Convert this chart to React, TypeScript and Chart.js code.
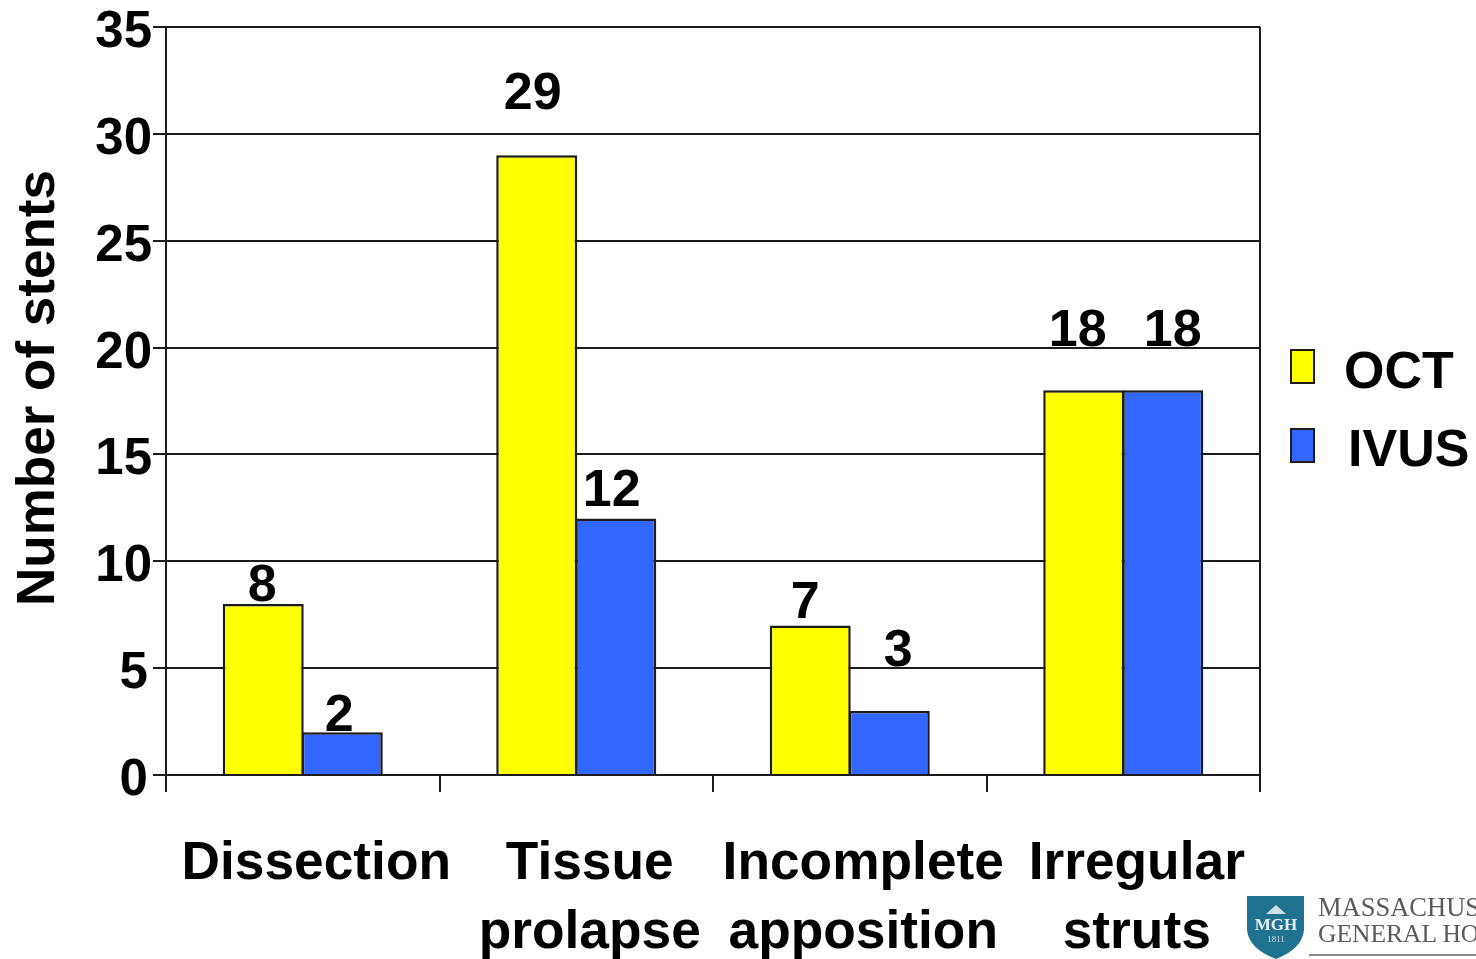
import React, { useEffect, useRef } from "react";
import { Chart, registerables } from "chart.js";

Chart.register(...registerables);

const FONT = '"Liberation Sans", Arial, sans-serif';
const INK = "#1c1c1c";

const categories = [["Dissection"], ["Tissue", "prolapse"], ["Incomplete", "apposition"], ["Irregular", "struts"]];
const octValues = [8, 29, 7, 18];
const ivusValues = [2, 12, 3, 18];
const yTicks = [0, 5, 10, 15, 20, 25, 30, 35];
const yAxisTitle = "Number of stents";

// Hand placement of the value labels relative to the top centre of each bar.
const octLabelShift = [
  { dx: -1, lift: 17 },
  { dx: -4, lift: 61 },
  { dx: -5, lift: 22 },
  { dx: -6, lift: 59 },
];
const ivusLabelShift = [
  { dx: -3, lift: 16 },
  { dx: -4, lift: 27 },
  { dx: 9, lift: 59 },
  { dx: 10, lift: 59 },
];
const labelShifts = [octLabelShift, ivusLabelShift];

const legendRows = [
  { boxTop: 350, textX: 1344, textY: 374 },
  { boxTop: 429, textX: 1348, textY: 452 },
];

const annotations = {
  id: "annotations",
  afterDraw(chart: any) {
    const { ctx } = chart;
    ctx.save();
    ctx.fillStyle = "#000";
    ctx.textBaseline = "middle";

    // value labels above the bars
    ctx.font = `bold 52px ${FONT}`;
    ctx.textAlign = "center";
    chart.data.datasets.forEach((ds: any, d: number) => {
      chart.getDatasetMeta(d).data.forEach((bar: any, i: number) => {
        const s = labelShifts[d][i];
        ctx.fillText(String(ds.data[i]), bar.x + s.dx, bar.y - s.lift);
      });
    });

    // rotated axis title
    ctx.save();
    ctx.translate(39, 388);
    ctx.rotate(-Math.PI / 2);
    ctx.font = `bold 53px ${FONT}`;
    ctx.fillText(yAxisTitle, 0, 0);
    ctx.restore();

    // legend
    ctx.textAlign = "left";
    ctx.font = `bold 52px ${FONT}`;
    chart.data.datasets.forEach((ds: any, d: number) => {
      const row = legendRows[d];
      ctx.fillStyle = ds.backgroundColor;
      ctx.strokeStyle = INK;
      ctx.lineWidth = 2;
      ctx.fillRect(1291, row.boxTop, 23, 33);
      ctx.strokeRect(1291, row.boxTop, 23, 33);
      ctx.fillStyle = "#000";
      ctx.fillText(ds.label, row.textX, row.textY);
    });
    ctx.restore();
  },
};

function HospitalMark() {
  return (
    <svg
      width={240}
      height={70}
      viewBox="1236 889 240 70"
      style={{ position: "absolute", left: 1236, top: 889, filter: "blur(0.6px)" }}
    >
      <path d="M1247 896 H1304 V930 Q1302 949 1276 959 Q1249 949 1247 930 Z" fill="#1f7391" />
      <path d="M1266 914 L1276 905 L1286 914 Z" fill="#cfe0e6" />
      <text x="1276" y="930" textAnchor="middle" fontFamily='"Liberation Serif", serif' fontSize="17" fontWeight="bold" fill="#e8f1f4">
        MGH
      </text>
      <text x="1276" y="942" textAnchor="middle" fontFamily='"Liberation Serif", serif' fontSize="9" fill="#cfe0e6">
        1811
      </text>
      <text x="1318" y="916" fontFamily='"Liberation Serif", serif' fontSize="26.5" fill="#5a5a5a">
        MASSACHUSETTS
      </text>
      <text x="1318" y="942" fontFamily='"Liberation Serif", serif' fontSize="25.5" fill="#5a5a5a">
        GENERAL HOSPITAL
      </text>
      <rect x="1309" y="954" width="167" height="2" fill="#8a8a8a" />
    </svg>
  );
}

export default function App() {
  const ref = useRef<HTMLCanvasElement>(null);

  useEffect(() => {
    document.body.style.margin = "0";
    const chart = new Chart(ref.current!, {
      type: "bar",
      data: {
        labels: categories,
        datasets: [
          { label: "OCT", data: octValues, backgroundColor: "#ffff00" },
          { label: "IVUS", data: ivusValues, backgroundColor: "#3366ff" },
        ],
      },
      plugins: [annotations],
      options: {
        animation: false,
        responsive: false,
        layout: { padding: { top: 27, right: 216, left: 0, bottom: 0 } },
        datasets: {
          bar: {
            borderColor: INK,
            borderWidth: 2.5,
            categoryPercentage: 0.578,
            // Slight overlap so neighbouring bars share one outline.
            barPercentage: 1.025,
          },
        },
        plugins: { legend: { display: false }, tooltip: { enabled: false }, title: { display: false } },
        scales: {
          x: {
            afterFit: (s: any) => {
              s.height = 184;
              s.paddingLeft = 0;
              s.paddingRight = 0;
            },
            border: { color: INK, width: 2 },
            // Only the closing line on the right edge reaches into the plot.
            grid: {
              color: (c: any) => (c.tick ? "rgba(0,0,0,0)" : INK),
              lineWidth: 2,
              tickColor: INK,
              tickLength: 17,
            },
            ticks: {
              color: "#000",
              font: { family: FONT, size: 53.3, weight: "bold", lineHeight: 1.31 },
              maxRotation: 0,
              autoSkip: false,
              padding: 37,
              labelOffset: 13.5,
            },
          },
          y: {
            min: 0,
            max: 35,
            afterFit: (s: any) => {
              s.width = 166;
              s.paddingTop = 0;
              s.paddingBottom = 0;
            },
            afterBuildTicks: (s: any) => {
              s.ticks = yTicks.map((value) => ({ value }));
            },
            border: { color: INK, width: 2 },
            grid: { color: INK, lineWidth: 2, tickColor: INK, tickLength: 13 },
            ticks: {
              color: "#000",
              font: { family: FONT, size: 51, weight: "bold" },
              padding: 1,
              labelOffset: 6,
              // Single digits sit a little further from the axis than two-digit values.
              callback: (v: any) => (Number(v) < 10 ? `${v}\u200a` : `${v}`),
            },
          },
        },
      },
    } as any);
    return () => chart.destroy();
  }, []);

  return (
    <div style={{ position: "fixed", left: 0, top: 0, width: 1476, height: 959, overflow: "hidden", background: "#fff" }}>
      <canvas ref={ref} width={1476} height={959} style={{ display: "block" }} />
      <HospitalMark />
    </div>
  );
}
